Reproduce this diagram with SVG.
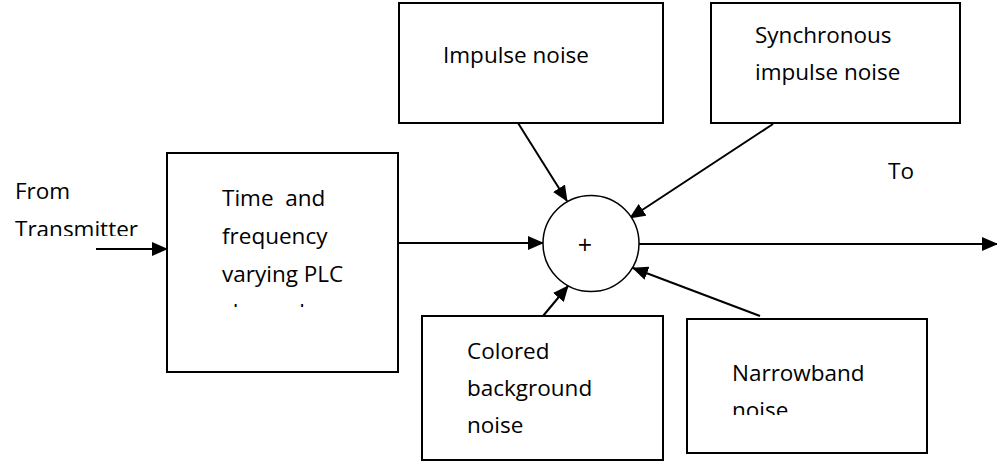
<svg xmlns="http://www.w3.org/2000/svg" width="997" height="461" viewBox="0 0 997 461">
<style>
.box{fill:#fff;stroke:#000;stroke-width:2}
.t{font-family:"Open Sans","Noto Sans",sans-serif;font-size:22.5px;fill:#000;white-space:pre}
</style>
<defs>
<marker id="ahL" markerWidth="16" markerHeight="14" refX="15" refY="7" orient="auto" markerUnits="userSpaceOnUse" viewBox="0 0 16 14">
<path d="M0,0 L16,7 L0,14 z" fill="#000"/>
</marker>
<clipPath id="cTx"><rect x="0" y="150" width="165" height="86"/></clipPath>
<clipPath id="cTime"><rect x="168" y="154" width="229" height="153"/></clipPath>
<clipPath id="cNb"><rect x="688" y="320" width="238" height="95"/></clipPath>
</defs>
<g id="connectors">
<line x1="96" y1="249" x2="167" y2="249" stroke="#000" stroke-width="2" marker-end="url(#ahL)"/>
<line x1="398" y1="243" x2="543" y2="243" stroke="#000" stroke-width="2" marker-end="url(#ahL)"/>
<line x1="639" y1="244" x2="997" y2="244" stroke="#000" stroke-width="2" marker-end="url(#ahL)"/>
<line x1="518" y1="123" x2="567" y2="201" stroke="#000" stroke-width="2" marker-end="url(#ahL)"/>
<line x1="773" y1="124" x2="630" y2="218" stroke="#000" stroke-width="2" marker-end="url(#ahL)"/>
<line x1="760" y1="316" x2="633" y2="268" stroke="#000" stroke-width="2" marker-end="url(#ahL)"/>
<line x1="543" y1="316" x2="568" y2="286" stroke="#000" stroke-width="2" marker-end="url(#ahL)"/>
</g>
<g id="from">
<text class="t" x="15" y="199">From</text>
<text class="t" x="15" y="237" clip-path="url(#cTx)">Transmitter</text>
</g>
<g id="to">
<text class="t" x="888" y="179">To</text>
</g>
<g id="channel">
<rect class="box" x="167" y="153" width="231" height="219"/>
<g clip-path="url(#cTime)">
<text class="t" x="222" y="206">Time  and</text>
<text class="t" x="222" y="244">frequency</text>
<text class="t" x="222" y="282">varying PLC</text>
<text class="t" x="222" y="320">channel</text>
</g>
</g>
<g id="impulse">
<rect class="box" x="399" y="3" width="264" height="120"/>
<text class="t" x="443" y="63">Impulse noise</text>
</g>
<g id="sync">
<rect class="box" x="711" y="3" width="249" height="120"/>
<text class="t" x="755" y="43">Synchronous</text>
<text class="t" x="755" y="80">impulse noise</text>
</g>
<g id="sum">
<circle cx="591" cy="243.5" r="48" fill="#fff" stroke="#000" stroke-width="1.5"/>
<text x="585" y="254" font-family="Open Sans, sans-serif" font-size="25" fill="#000" text-anchor="middle">+</text>
</g>
<g id="colored">
<rect class="box" x="422" y="316" width="241" height="144"/>
<text class="t" x="467" y="359">Colored</text>
<text class="t" x="467" y="396">background</text>
<text class="t" x="467" y="433">noise</text>
</g>
<g id="narrowband">
<rect class="box" x="687" y="319" width="240" height="134"/>
<text class="t" x="732" y="381">Narrowband</text>
<text class="t" x="732" y="418" clip-path="url(#cNb)">noise</text>
</g>
</svg>
